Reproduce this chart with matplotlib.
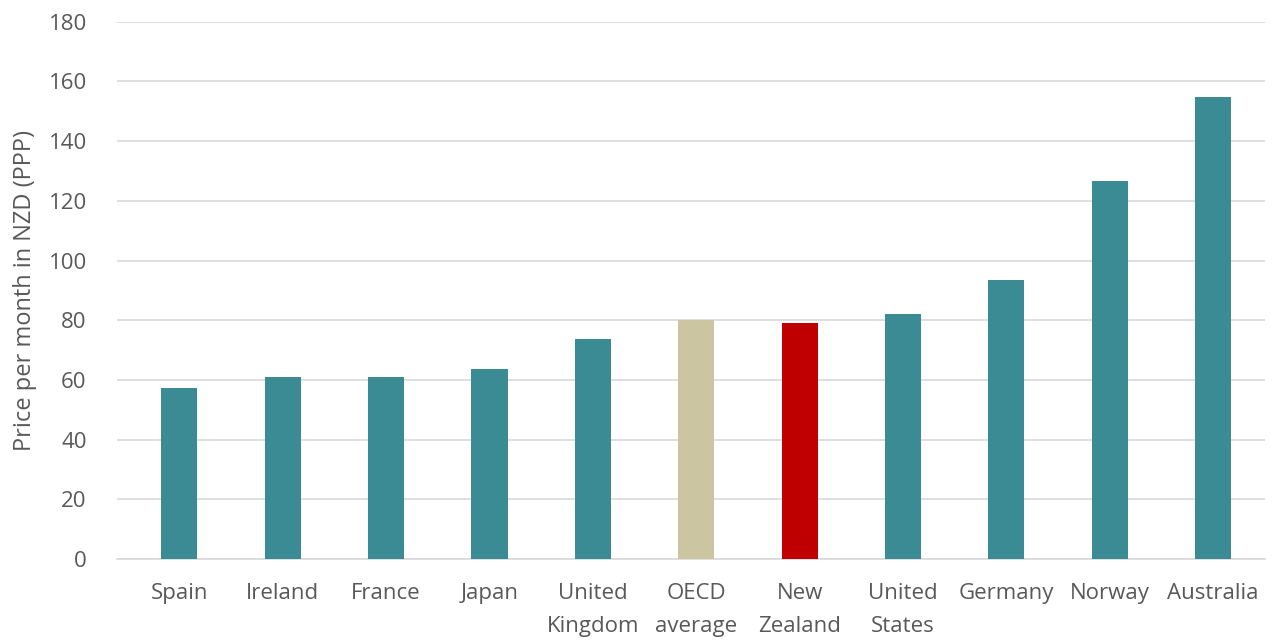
import numpy as np
import matplotlib.pyplot as plt

countries = ['Spain', 'Ireland', 'France', 'Japan', 'United\nKingdom', 'OECD\naverage',
             'New\nZealand', 'United\nStates', 'Germany', 'Norway', 'Australia']
prices = [57.4, 60.9, 61.1, 63.7, 73.6, 80.0, 79.0, 82.0, 93.6, 126.8, 154.8]

teal = '#3A8B93'
colors = [teal] * len(countries)
colors[5] = '#CBC5A2'   # OECD average
colors[6] = '#C00000'   # New Zealand

plt.rcParams['font.family'] = ['Open Sans', 'DejaVu Sans']

fig = plt.figure(figsize=(12.75, 6.41), dpi=100)
ax = fig.add_axes([0.092, 0.128, 0.900, 0.838])

x = np.arange(len(countries))
ax.bar(x, prices, width=0.35, color=colors, zorder=3)

ax.set_xlim(-0.6, 10.5)
ax.set_ylim(0, 180)
ax.set_yticks(np.arange(0, 181, 20))
ax.set_xticks(x)
ax.set_xticklabels(countries, linespacing=1.8)

ax.yaxis.grid(True, color='#D9D9D9', linewidth=1.2, zorder=0)
for s in ['top', 'right', 'left']:
    ax.spines[s].set_visible(False)
ax.spines['bottom'].set_color('#D9D9D9')
ax.spines['bottom'].set_linewidth(1.2)

ax.tick_params(axis='both', length=0, labelsize=16, colors='#595959')
ax.tick_params(axis='x', pad=17)
ax.tick_params(axis='y', pad=22)
ax.set_ylabel('Price per month in NZD (PPP)', fontsize=17, color='#595959', labelpad=8)

fig.savefig('out.png', dpi=100)
